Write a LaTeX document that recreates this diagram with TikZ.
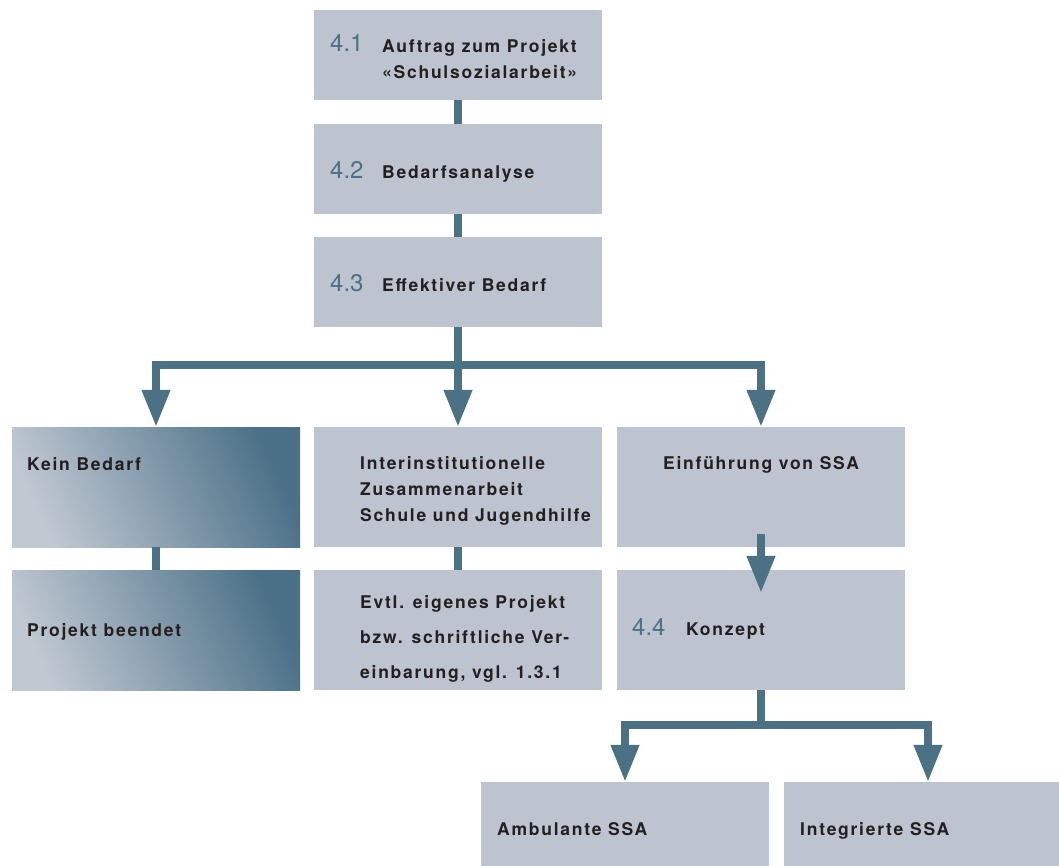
\documentclass[tikz,border=0pt]{standalone}
\usepackage{fontspec}
\setmainfont{TeX Gyre Heros}
\newfontfamily\boxfont{TeX Gyre Heros}[LetterSpace=10]
\usetikzlibrary{arrows.meta}

\definecolor{boxgray}{RGB}{189,196,207}
\definecolor{linecol}{RGB}{74,113,132}
\definecolor{fadedark}{RGB}{74,112,135}
\definecolor{fadelight}{RGB}{192,200,210}
\definecolor{txtcol}{RGB}{35,31,32}

\begin{document}
\begin{tikzpicture}[x=1pt, y=-1pt,
  box/.style={fill=boxgray, inner sep=0pt, minimum width=288pt, minimum height=120pt},
  smallbox/.style={box, minimum height=90pt},
  fadebox/.style={box, left color=fadelight, right color=fadedark, shading angle=115},
  num/.style={anchor=base west, inner sep=0pt, text=linecol, font=\fontsize{24}{24}\selectfont},
  lbl/.style={anchor=base west, inner sep=0pt, text=txtcol, align=left, font=\boxfont\bfseries\fontsize{17.5}{26}\selectfont},
  conn/.style={draw=linecol, line width=7.5pt},
  arr/.style={conn, -{Triangle[width=27pt,length=37pt]}}
]
\useasboundingbox (0,0) rectangle (1059,866);

% Boxes
\node[smallbox] (a41) at (458,55) {};
\node[smallbox] (a42) at (458,169) {};
\node[smallbox] (a43) at (458,282) {};
\node[fadebox] (kb) at (156,487) {};
\node[box] (iz) at (458,487) {};
\node[box] (ein) at (761,487) {};
\node[fadebox] (pb) at (156,630) {};
\node[box] (ev) at (458,630) {};
\node[box] (kz) at (761,630) {};
\node[box] (amb) at (625,842) {};
\node[box] (int) at (928,842) {};

% Labels (multi-line ones sit on their last baseline)
\node[num] (n41) at (330,52) {4.1};
\node[lbl] (t41) at (382,79) {Auftrag zum Projekt\\«Schulsozialarbeit»};
\node[num] (n42) at (330,179) {4.2};
\node[lbl] (t42) at (382,179) {Bedarfsanalyse};
\node[num] (n43) at (330,292) {4.3};
\node[lbl] (t43) at (382,292) {Effektiver Bedarf};
\node[lbl] (tkb) at (27,470) {Kein Bedarf};
\node[lbl] (tiz) at (360,521) {Interinstitutionelle\\Zusammenarbeit\\Schule und Jugendhilfe};
\node[lbl] (tein) at (663,469) {Einführung von SSA};
\node[lbl] (tpb) at (27,636) {Projekt beendet};
\node[lbl] (tev) at (360,678) {Evtl. eigenes Projekt\\[9pt]bzw. schriftliche Ver-\\[9pt]einbarung, vgl. 1.3.1};
\node[num] (n44) at (632,635) {4.4};
\node[lbl] (tkz) at (686,635) {Konzept};
\node[lbl] (tamb) at (497,835) {Ambulante SSA};
\node[lbl] (tint) at (800,835) {Integrierte SSA};

% Main chain
\draw[conn] (a41.south) -- (a42.north);
\draw[conn] (a42.south) -- (a43.north);

% Three way split
\coordinate (j1) at ([yshift=-38pt]a43.south);
\draw[conn] (a43.south) -- (j1);
\draw[arr] (j1) -| (kb.north);
\draw[arr] (j1) -- (iz.north);
\draw[arr] (j1) -| (ein.north);

% Second row
\draw[conn] (kb.south) -- (pb.north);
\draw[conn] (iz.south) -- (ev.north);
\draw[arr] ([yshift=13pt]ein.south) -- ([yshift=-23pt]kz.north);

% Two way split
\coordinate (j2) at ([yshift=-35pt]kz.south);
\draw[conn] (kz.south) -- (j2);
\draw[arr] (j2) -| (amb.north);
\draw[arr] (j2) -| (int.north);

\end{tikzpicture}
\end{document}
